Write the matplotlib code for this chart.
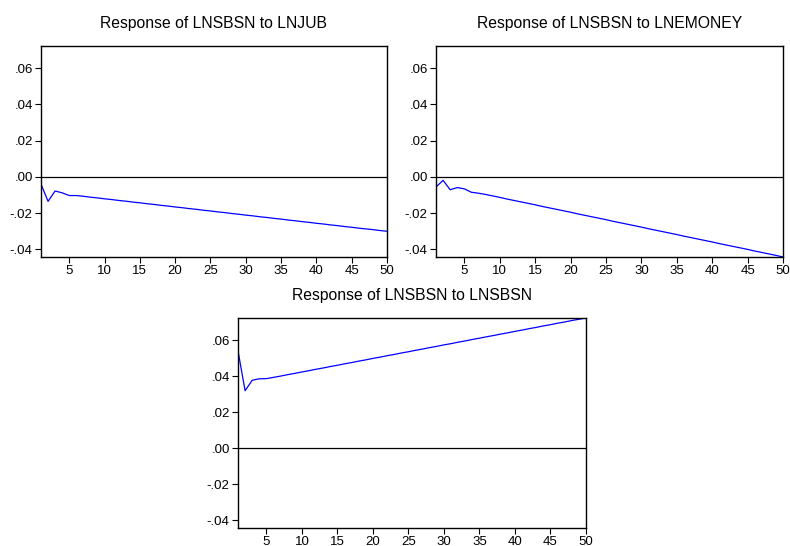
import matplotlib
matplotlib.use("Agg")
import matplotlib.pyplot as plt
import numpy as np

plt.rcParams['font.family'] = ['Liberation Sans', 'DejaVu Sans']

periods = list(range(1, 51))

# Response of LNSBSN to LNJUB
resp_lnjub = [-0.0040, -0.0135, -0.0078, -0.0088, -0.0103, -0.0103, -0.0107, -0.0112, -0.0116, -0.0121,
              -0.0125, -0.0130, -0.0134, -0.0139, -0.0143, -0.0148, -0.0152, -0.0157, -0.0161, -0.0166,
              -0.0170, -0.0175, -0.0179, -0.0184, -0.0188, -0.0193, -0.0197, -0.0202, -0.0206, -0.0211,
              -0.0215, -0.0220, -0.0224, -0.0229, -0.0233, -0.0238, -0.0242, -0.0247, -0.0251, -0.0256,
              -0.0260, -0.0265, -0.0269, -0.0274, -0.0278, -0.0283, -0.0287, -0.0291, -0.0296, -0.0300]

# Response of LNSBSN to LNEMONEY
resp_lnemoney = [-0.0056, -0.0019, -0.0071, -0.0059, -0.0066, -0.0085, -0.0090, -0.0097, -0.0105, -0.0113,
                 -0.0122, -0.0130, -0.0138, -0.0146, -0.0154, -0.0163, -0.0171, -0.0179, -0.0187, -0.0195,
                 -0.0204, -0.0212, -0.0220, -0.0228, -0.0236, -0.0245, -0.0253, -0.0261, -0.0269, -0.0277,
                 -0.0286, -0.0294, -0.0302, -0.0310, -0.0318, -0.0327, -0.0335, -0.0343, -0.0351, -0.0359,
                 -0.0368, -0.0376, -0.0384, -0.0392, -0.0400, -0.0409, -0.0417, -0.0425, -0.0433, -0.0442]

# Response of LNSBSN to LNSBSN
resp_lnsbsn = [0.0540, 0.0319, 0.0377, 0.0385, 0.0386, 0.0393, 0.0400, 0.0408, 0.0415, 0.0423,
               0.0430, 0.0438, 0.0445, 0.0453, 0.0460, 0.0468, 0.0475, 0.0483, 0.0490, 0.0498,
               0.0505, 0.0513, 0.0520, 0.0528, 0.0535, 0.0543, 0.0550, 0.0558, 0.0565, 0.0573,
               0.0580, 0.0588, 0.0595, 0.0603, 0.0610, 0.0618, 0.0625, 0.0633, 0.0640, 0.0648,
               0.0655, 0.0663, 0.0670, 0.0678, 0.0685, 0.0693, 0.0700, 0.0708, 0.0715, 0.0722]

titles = ["Response of LNSBSN to LNJUB", "Response of LNSBSN to LNEMONEY", "Response of LNSBSN to LNSBSN"]
series = [resp_lnjub, resp_lnemoney, resp_lnsbsn]
yticks = [-0.04, -0.02, 0.00, 0.02, 0.04, 0.06]
ytick_labels = ["-.04", "-.02", ".00", ".02", ".04", ".06"]
xticks = [5, 10, 15, 20, 25, 30, 35, 40, 45, 50]

W, H = 790, 546
fig = plt.figure(figsize=(W / 100, H / 100), dpi=100)

boxes = [(41, 46, 387, 257), (436, 46, 783, 257), (238, 318, 586, 528)]

for (x0, y0, x1, y1), title, vals in zip(boxes, titles, series):
    ax = fig.add_axes([x0 / W, 1 - y1 / H, (x1 - x0) / W, (y1 - y0) / H])
    ax.plot(periods, vals, color="#0000ff", lw=0.9)
    ax.axhline(0, color="black", lw=0.9)
    ax.set_xlim(1, 50)
    ax.set_ylim(-0.0442, 0.0722)
    ax.set_yticks(yticks)
    ax.set_yticklabels(ytick_labels)
    ax.set_xticks(xticks)
    ax.tick_params(direction="out", length=4.5, width=0.8, labelsize=9.5, pad=1.5, colors="black")
    for s in ax.spines.values():
        s.set_linewidth(1.0)
        s.set_color("black")
    ax.set_title(title, fontsize=11.3, pad=13)

fig.savefig("out.png", dpi=100)
